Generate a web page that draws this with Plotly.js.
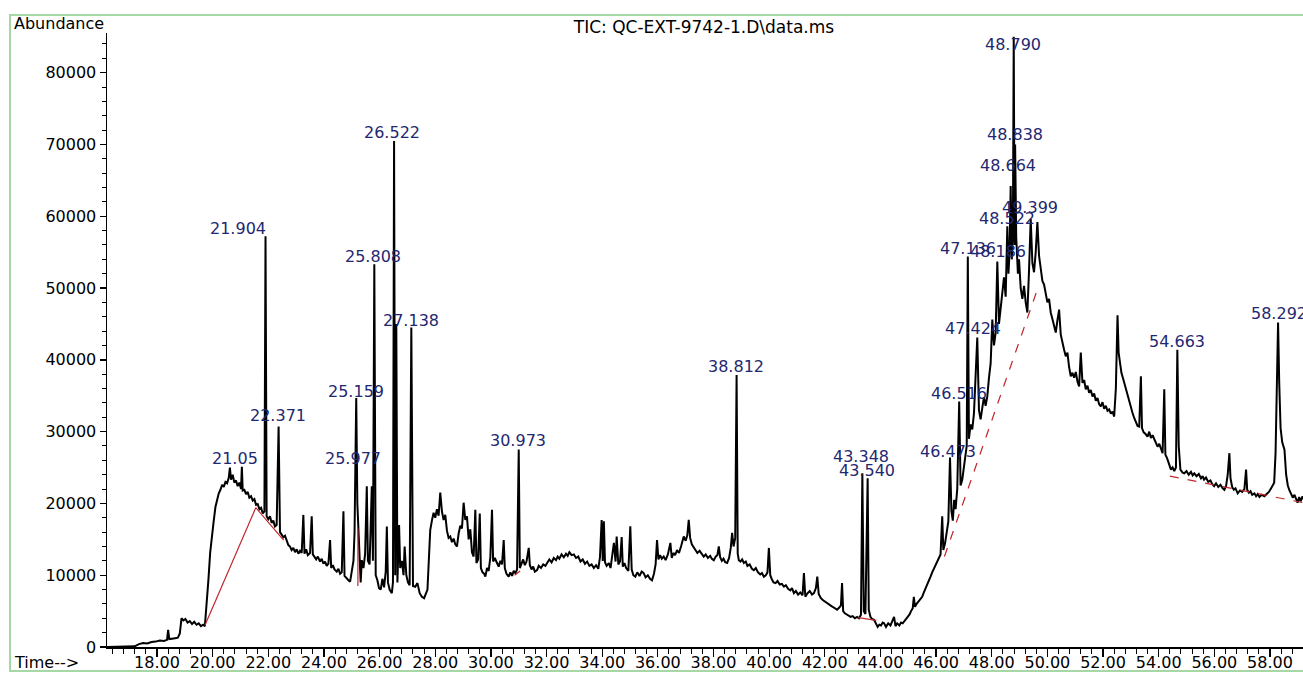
<!DOCTYPE html>
<html>
<head>
<meta charset="utf-8">
<script src="https://cdn.plot.ly/plotly-3.0.1.min.js"></script>
<style>html,body{margin:0;padding:0;background:#fff;}#chart{width:1303px;height:673px;}</style>
</head>
<body>
<div id="chart"></div>
<script>
// Retention time (min) and abundance of the TIC trace
const times = [
16.20,16.60,17.00,17.20,17.35,17.50,17.65,17.80,17.95,18.10,18.25,18.36,18.40,18.44,18.60,18.75,18.82,18.88,18.95,19.02,
19.10,19.18,19.26,19.34,19.42,19.50,19.58,19.66,19.72,19.78,19.85,19.91,19.97,20.03,20.10,20.16,20.22,20.28,20.34,20.40,
20.46,20.52,20.58,20.62,20.66,20.72,20.78,20.84,20.90,20.96,21.02,21.05,21.08,21.14,21.20,21.26,21.32,21.38,21.44,21.50,
21.56,21.62,21.68,21.74,21.80,21.86,21.90,21.94,22.00,22.06,22.12,22.18,22.24,22.30,22.37,22.42,22.48,22.54,22.60,22.66,
22.72,22.78,22.84,22.90,22.96,23.02,23.08,23.14,23.20,23.26,23.30,23.36,23.42,23.50,23.56,23.60,23.66,23.72,23.78,23.86,
23.92,23.98,24.04,24.10,24.16,24.22,24.26,24.32,24.38,24.46,24.52,24.58,24.64,24.70,24.74,24.80,24.88,24.94,25.00,25.06,
25.10,25.16,25.20,25.24,25.28,25.32,25.36,25.42,25.48,25.54,25.58,25.64,25.72,25.76,25.81,25.86,25.92,25.98,26.04,26.10,
26.16,26.22,26.26,26.30,26.36,26.44,26.48,26.52,26.56,26.60,26.64,26.70,26.74,26.80,26.86,26.90,26.96,27.02,27.08,27.14,
27.20,27.28,27.36,27.44,27.52,27.60,27.66,27.72,27.78,27.82,27.88,27.94,28.00,28.06,28.12,28.18,28.24,28.30,28.36,28.42,
28.48,28.54,28.60,28.66,28.72,28.78,28.84,28.90,28.96,29.02,29.08,29.14,29.20,29.26,29.32,29.38,29.44,29.48,29.54,29.60,
29.64,29.70,29.76,29.80,29.86,29.92,29.98,30.04,30.08,30.14,30.22,30.28,30.34,30.40,30.46,30.50,30.56,30.64,30.70,30.76,
30.82,30.88,30.94,31.00,31.04,31.10,31.16,31.22,31.28,31.36,31.40,31.46,31.52,31.58,31.66,31.72,31.80,31.88,31.96,32.02,
32.10,32.18,32.26,32.34,32.40,32.46,32.54,32.62,32.70,32.76,32.82,32.90,32.98,33.06,33.14,33.22,33.30,33.38,33.46,33.54,
33.62,33.70,33.78,33.86,33.92,33.98,34.02,34.06,34.10,34.16,34.24,34.30,34.36,34.42,34.48,34.52,34.58,34.64,34.70,34.74,
34.80,34.86,34.94,35.01,35.06,35.12,35.19,35.26,35.34,35.42,35.49,35.56,35.64,35.72,35.79,35.86,35.92,35.97,36.02,36.08,
36.14,36.21,36.28,36.36,36.45,36.50,36.56,36.62,36.69,36.76,36.84,36.93,37.00,37.06,37.11,37.16,37.22,37.28,37.35,37.42,
37.50,37.58,37.65,37.72,37.80,37.88,37.94,38.01,38.08,38.14,38.19,38.24,38.30,38.36,38.42,38.49,38.56,38.62,38.67,38.72,
38.78,38.83,38.87,38.91,38.97,39.03,39.09,39.16,39.22,39.30,39.38,39.45,39.52,39.60,39.68,39.74,39.81,39.88,39.94,39.99,
40.04,40.10,40.16,40.23,40.30,40.38,40.46,40.53,40.60,40.68,40.76,40.82,40.89,40.96,41.04,41.12,41.20,41.25,41.30,41.38,
41.46,41.54,41.61,41.68,41.73,41.78,41.86,41.94,42.01,42.08,42.16,42.24,42.32,42.38,42.44,42.52,42.58,42.62,42.66,42.72,
42.80,42.86,42.93,43.00,43.08,43.16,43.23,43.30,43.35,43.40,43.46,43.54,43.58,43.64,43.70,43.77,43.84,43.90,43.96,44.02,
44.08,44.13,44.20,44.28,44.36,44.44,44.49,44.54,44.60,44.68,44.74,44.80,44.86,44.92,44.98,45.04,45.10,45.16,45.20,45.24,
45.30,45.36,45.42,45.50,45.56,45.62,45.68,45.74,45.80,45.86,45.92,45.98,46.04,46.10,46.16,46.22,46.26,46.32,46.38,46.44,
46.50,46.55,46.60,46.65,46.70,46.76,46.83,46.88,46.94,47.00,47.06,47.10,47.14,47.18,47.24,47.30,47.36,47.42,47.48,47.54,
47.60,47.66,47.72,47.78,47.84,47.90,47.96,48.02,48.08,48.14,48.20,48.26,48.32,48.38,48.44,48.50,48.56,48.60,48.64,48.68,
48.72,48.76,48.79,48.82,48.84,48.88,48.94,48.98,49.04,49.10,49.16,49.22,49.28,49.34,49.40,49.46,49.52,49.58,49.64,49.70,
49.76,49.82,49.88,49.94,50.00,50.06,50.12,50.18,50.24,50.30,50.36,50.42,50.48,50.54,50.60,50.66,50.72,50.78,50.84,50.90,
50.96,51.02,51.08,51.14,51.20,51.26,51.32,51.38,51.44,51.50,51.56,51.62,51.68,51.74,51.80,51.86,51.92,51.98,52.04,52.10,
52.16,52.22,52.28,52.34,52.40,52.46,52.52,52.56,52.60,52.66,52.72,52.76,52.82,52.88,52.94,53.00,53.06,53.12,53.18,53.24,
53.30,53.36,53.40,53.46,53.52,53.60,53.66,53.72,53.78,53.84,53.90,53.96,54.02,54.08,54.14,54.20,54.24,54.30,54.36,54.44,
54.50,54.56,54.62,54.67,54.72,54.78,54.86,54.92,55.00,55.08,55.16,55.22,55.28,55.36,55.44,55.52,55.58,55.63,55.70,55.78,
55.86,55.92,55.99,56.06,56.14,56.22,56.30,56.36,56.42,56.48,56.54,56.58,56.64,56.70,56.76,56.84,56.92,57.00,57.08,57.14,
57.18,57.24,57.30,57.36,57.44,57.50,57.56,57.62,57.70,57.80,57.88,57.96,58.04,58.10,58.15,58.20,58.25,58.29,58.33,58.38,
58.44,58.52,58.58,58.64,58.70,58.76,58.82,58.88,58.94,58.99,59.05,59.10,59.17,59.20
];
const abundance = [
0,0,0,100,400,550,500,700,750,900,850,1000,2400,1100,1200,1300,1900,4000,3700,3900,
3400,3600,3200,3500,3100,3300,2900,3100,2900,5600,9500,13100,15800,17300,19500,20600,21400,21900,22600,22300,
23000,22800,23600,25000,23300,24000,22900,23200,22400,22900,22000,25100,21800,21900,21300,21600,20800,21000,20400,20600,
19800,19900,19200,19400,18600,18900,57200,18200,17800,18200,17300,17600,16800,17000,30700,16000,15600,15300,15500,14700,
14200,14000,13500,13800,13200,13600,13000,13400,13100,18400,13000,13600,12800,13100,18200,12900,12500,12200,12600,11900,
12300,11600,11900,11300,11600,14900,11000,11400,10800,10500,10900,10200,10400,18900,9900,9600,9300,9100,10500,12000,
16000,34700,20000,17000,14000,9000,12100,11000,13000,22400,12000,11500,22400,12000,53300,10000,9300,8200,8000,9500,
8300,10500,16800,9000,8000,7500,9000,70500,10000,45000,9000,17000,11000,12000,10000,14000,10000,9000,8600,44500,
8500,8400,8900,7500,7000,6800,7400,8000,13000,16300,17600,18700,18000,19200,18300,21500,18900,17700,18400,16200,
15200,15400,14600,15100,14300,14000,15800,16900,16500,20100,17700,18200,15000,16400,13200,12600,19100,11700,12200,18600,
11000,10400,10200,9800,11000,10600,12500,19100,11900,12400,11700,11200,12000,11500,14900,11000,10200,9800,10400,9900,
10600,10300,10800,27500,11000,11700,12200,11400,11900,13800,11400,10800,11200,10500,10700,11300,11000,11500,11300,11700,
12200,11800,12400,12100,12600,12300,12900,12500,13000,12700,13200,12800,12900,12400,12600,11900,12200,11600,11900,11300,
11500,11000,11400,10900,12500,17700,12000,17500,11800,11300,11700,11000,13000,14500,11900,15400,11500,11900,15300,11200,
11700,11000,10600,16800,10800,10000,9800,10400,9900,10500,10300,9700,10000,9500,9300,10200,11500,14900,12200,12800,
12300,12600,12100,12900,14500,12400,13100,12800,13500,13100,14100,15400,14800,15600,17700,15200,14300,13900,13500,13100,
13400,12900,12600,12900,12400,12700,12300,12100,12600,12800,14000,12500,12000,12300,11800,11700,12400,13800,15900,14000,
15200,37900,13000,12100,11900,12200,11700,11900,11300,11500,10900,10700,11000,10400,10100,10300,9800,10000,10400,13800,
10000,9400,9000,8900,9200,8700,8800,8400,8600,8100,7900,8200,7500,7800,7300,7600,7200,10300,7000,7500,
7800,7300,7500,8200,9800,7400,6800,6500,6300,6100,5800,5700,5500,5400,5200,5500,5800,8900,5000,4700,
4500,4400,4200,4300,4000,4200,4000,4500,24200,5000,4600,23500,5200,4200,3900,3800,3300,2800,3100,3000,
3400,3300,2800,3300,3000,3600,4200,2900,3300,3000,3400,3300,3600,3900,4200,4500,5000,5400,7000,5600,
6000,6300,6700,7000,7600,8100,8600,9200,9800,10400,10900,11300,11700,12300,12900,18200,13500,14400,15800,17500,
26400,19000,17600,20500,19200,22000,34200,22500,23300,25100,26500,28000,54400,29000,31000,30300,32500,38000,43100,33000,
31700,33300,34800,33600,34900,37500,39500,45600,42000,43800,53700,45000,47000,49300,51500,48800,58600,52000,55000,64200,
54000,58000,85000,56000,70000,57000,52000,54000,50000,48500,50300,48000,46600,52500,59600,53500,52200,55000,59200,54500,
52600,51000,50500,49300,48000,48500,46600,45700,44800,43800,45500,47000,43500,42200,41400,40500,41000,39000,37700,38200,
37500,38300,37000,36300,41000,36800,37200,35900,36400,35400,35800,34900,35300,34300,34700,33800,33500,34100,33200,33600,
32900,33100,32500,32800,32100,36000,46200,41000,39600,38200,37400,36800,35800,34900,34000,33500,32600,31900,31200,30800,
30700,37700,30500,29900,29700,29300,30000,29100,29500,28900,28400,27900,28300,27500,27000,35900,26800,26300,25600,24700,
25000,24500,25000,41400,28000,24700,24300,24200,24500,24000,24400,23900,24200,23800,24100,23500,23800,23300,23600,23000,
23200,22700,22400,22800,22300,22600,22100,21900,22400,24000,27000,23500,22300,21900,22100,21400,21800,21600,22000,24700,
21900,21500,21700,21200,21400,21000,21300,20900,21200,21000,21300,21600,22100,22500,22900,27000,36000,45200,37000,30500,
28500,27500,24000,22500,21800,21400,20800,21200,20400,20100,20900,20300,21000,20600
];

// Integration baselines (red), segments separated by null
const baseSolidT = [19.72, 21.55, null, 21.55, 22.55, null, 25.22, 25.22, null, 30.85, 31.05, null, 43.20, 43.85];
const baseSolidA = [3000, 19400, null, 19400, 14900, null, 8500, 16500, null, 10000, 10600, null, 4100, 3700];
const baseDashT = [46.30, 49.64, null, 54.40, 59.20];
const baseDashA = [12600, 49800, null, 23800, 20100];

// Peak labels: text and anchor (time, abundance) of each label
const labelText = ["21.05","21.904","22.371","25.159","25.977","25.808","26.522","27.138","30.973","38.812",
  "43.348","43.540","46.473","46.516","47.136","48.186","47.424","48.522","48.664","48.838","48.790","49.399","54.663","58.292"];
const labelTime = [20.80,20.91,22.35,25.15,25.03,25.77,26.46,27.12,30.96,38.80,
  43.29,43.51,46.44,46.82,47.13,48.24,47.34,48.54,48.60,48.84,48.77,49.37,54.67,58.32];
const labelAbund = [26190,58360,32180,35560,26280,54460,71700,45550,28740,39140,
  26600,24650,27200,35340,55540,55070,44390,59720,67140,71460,83860,61250,42530,46480];

const FONT = "DejaVu Sans, Liberation Sans, Arial, sans-serif";

const traces = [
  {x: times, y: abundance, type: "scatter", mode: "lines",
   line: {color: "#000000", width: 2}, hoverinfo: "skip"},
  {x: baseSolidT, y: baseSolidA, type: "scatter", mode: "lines",
   line: {color: "#c0282d", width: 1.2}, hoverinfo: "skip"},
  {x: baseDashT, y: baseDashA, type: "scatter", mode: "lines",
   line: {color: "#c0282d", width: 1.2, dash: "dash"}, hoverinfo: "skip"}
];

const annotations = labelText.map((t, i) => ({
  x: labelTime[i], y: labelAbund[i], xref: "x", yref: "y", text: t, showarrow: false,
  xanchor: "center", yanchor: "middle",
  font: {family: FONT, size: 16, color: "#1f2870"}
}));
annotations.push({x: -0.0794, y: 1.0147, xref: "paper", yref: "paper", text: "Abundance",
  showarrow: false, xanchor: "left", yanchor: "middle", font: {family: FONT, size: 16, color: "#000"}});
annotations.push({x: -0.0794, y: -0.026, xref: "paper", yref: "paper", text: "Time-->",
  showarrow: false, xanchor: "left", yanchor: "middle", font: {family: FONT, size: 16, color: "#000"}});

const layout = {
  width: 1303, height: 673, autosize: false,
  margin: {l: 107, r: 0, t: 33, b: 26, pad: 0},
  paper_bgcolor: "#ffffff", plot_bgcolor: "#ffffff",
  showlegend: false, hovermode: false,
  title: {text: "TIC: QC-EXT-9742-1.D\\data.ms", x: 704/1303, xref: "container", xanchor: "center",
          y: 1 - 27/673, yref: "container", yanchor: "middle",
          font: {family: FONT, size: 17, color: "#000"}},
  xaxis: {range: [16.203, 59.186], tickmode: "linear", tick0: 0, dtick: 2, tickformat: ".2f",
          ticks: "outside", ticklen: 8, tickwidth: 1.3, tickcolor: "#000", ticklabelstandoff: -8,
          minor: {tickmode: "linear", tick0: 0, dtick: 0.4, ticks: "outside", ticklen: 5, tickwidth: 1, tickcolor: "#000", showgrid: false},
          showline: true, linecolor: "#000", linewidth: 1.5, showgrid: false, zeroline: false,
          tickfont: {family: FONT, size: 16, color: "#000"}},
  yaxis: {range: [0, 85530], tickmode: "linear", tick0: 0, dtick: 10000, tickformat: "d",
          ticks: "outside", ticklen: 6, tickwidth: 1.3, tickcolor: "#000",
          minor: {tickmode: "linear", tick0: 0, dtick: 2000, ticks: "outside", ticklen: 4, tickwidth: 1, tickcolor: "#000", showgrid: false},
          showline: true, linecolor: "#000", linewidth: 1.5, showgrid: false, zeroline: false,
          tickfont: {family: FONT, size: 16, color: "#000"}},
  shapes: [{type: "rect", xref: "paper", yref: "paper", x0: -0.0811, x1: 1.01, y0: -0.0391, y1: 1.0293,
            line: {color: "#a6d8a6", width: 2}, layer: "below"}],
  annotations: annotations
};

Plotly.newPlot("chart", traces, layout, {staticPlot: true, displayModeBar: false});
</script>
</body>
</html>
